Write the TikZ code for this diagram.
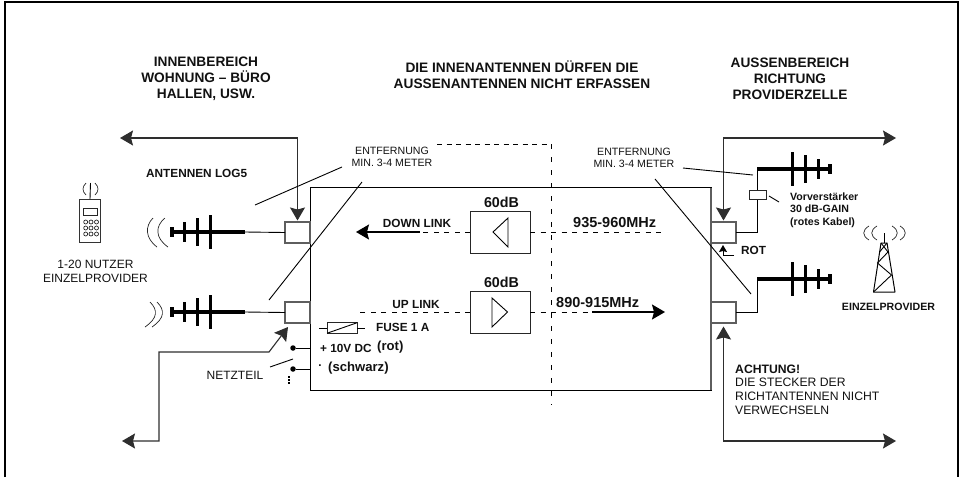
\documentclass[tikz,border=0pt]{standalone}
\usepackage{fontspec}
\setmainfont{Liberation Sans}
\usetikzlibrary{arrows.meta,positioning,calc}
\definecolor{nline}{HTML}{2E2E2E}
\definecolor{nedge}{HTML}{5E5E5E}
\definecolor{ntext}{HTML}{111111}
\tikzset{
 bigtip/.tip={Stealth[length=13pt,width=15pt,inset=2pt]},
 smalltip/.tip={Stealth[length=7pt,width=8pt,inset=1pt]},
 wire/.style={nline, line width=1.1pt},
 thinwire/.style={black, line width=0.9pt},
 linkdash/.style={black, line width=0.9pt, dash pattern=on 5pt off 5.5pt},
 jack/.style={draw=nedge, line width=1.2pt, fill=white, minimum width=25pt, minimum height=21pt, inner sep=0pt, outer sep=0pt},
 ampbox/.style={draw=black!85, line width=1pt, fill=white, minimum width=60pt, minimum height=42pt, inner sep=0pt, outer sep=0pt},
 headtxt/.style={ntext, inner sep=0pt, align=center, font=\bfseries\fontsize{13.7}{15.9}\selectfont},
 disttxt/.style={ntext, inner sep=0pt, align=center, font=\fontsize{10.6}{12}\selectfont},
 smalltxt/.style={ntext, inner sep=0pt, align=center, font=\fontsize{12}{14}\selectfont},
 boldtxt/.style={ntext, inner sep=0pt, font=\bfseries\fontsize{11.8}{14}\selectfont},
 gaintxt/.style={ntext, inner sep=0pt, font=\bfseries\fontsize{14.3}{16}\selectfont},
 freqtxt/.style={ntext, inner sep=0pt, font=\bfseries\fontsize{14.5}{16}\selectfont},
 paren/.style={ntext, inner sep=0pt, font=\bfseries\fontsize{13.1}{16}\selectfont},
 pvtxt/.style={ntext, inner sep=0pt, align=left, font=\bfseries\fontsize{10.6}{12.5}\selectfont},
 wave/.style={black!85, line width=0.7pt},
 dot/.style={circle, fill=black, inner sep=0pt, minimum size=5.5pt},
 key/.style={circle, draw=black!85, line width=0.7pt, inner sep=0pt, minimum size=4pt},
 yagi/.pic={
  \draw[black, line width=3.4pt] (0,0) -- (73,0);
  \draw[black, line width=3pt] (35,-17) -- (35,17);
  \draw[black, line width=3pt] (48,-14) -- (48,14);
  \draw[black, line width=3pt] (61,-10) -- (61,10);
  \draw[black, line width=3.6pt] (73,-5) -- (73,5);
 },
}
\begin{document}
\begin{tikzpicture}[x=1pt,y=-1pt]
 \useasboundingbox (0,0) rectangle (963,477);
 \draw[black, line width=2.6pt] (5,477) -- (5,2) -- (958,2) -- (958,477);

 \node[headtxt] (headin) at (206,79) {INNENBEREICH\\WOHNUNG – BÜRO\\HALLEN, USW.};
 \node[headtxt] (headmid) at (522,74.5) {DIE INNENANTENNEN DÜRFEN DIE\\AUSSENANTENNEN NICHT ERFASSEN};
 \node[headtxt] (headout) at (790,79) {AUSSENBEREICH\\RICHTUNG\\PROVIDERZELLE};

 \node[draw=black, line width=1pt, minimum width=401pt, minimum height=202.5pt, inner sep=0pt, outer sep=0pt] (mainbox) at (510.5,288.75) {};
 \draw[nedge, line width=1.4pt] (mainbox.north east) -- (mainbox.south east);

 \coordinate (sepstart) at (437,144);
 \coordinate (sepcorner) at (551,144);
 \coordinate (sepend) at (551,405);
 \draw[black, line width=0.9pt, dash pattern=on 5pt off 4.5pt] (sepstart) -- (sepcorner);
 \draw[black, line width=0.9pt, dash pattern=on 5pt off 8pt] (sepcorner) -- (sepend);

 \node[jack] (jackul) at (297.5,232.5) {};
 \node[jack] (jackll) at (297.5,312.5) {};
 \node[jack] (jackur) at (723.5,232.5) {};
 \node[jack] (jacklr) at (723.5,312.5) {};

 \node[ampbox] (ampdown) at (500,232) {};
 \node[ampbox] (ampup) at (500,312) {};
 \draw[thinwire, line join=miter] (508,218) -- (493,232) -- (508,247) -- cycle;
 \draw[thinwire, line join=miter] (492,298) -- (507.5,312) -- (492,327) -- cycle;
 \node[gaintxt] (gaindown) at (501.5,202) {60dB};
 \node[gaintxt] (gainup) at (501.5,282) {60dB};

 \coordinate (downtip) at (356,232);
 \coordinate (downmid) at (420,232);
 \coordinate (downend) at (665,232);
 \coordinate (uptip) at (665,312);
 \coordinate (upmid) at (592,312);
 \coordinate (upend) at (356,312);
 \draw[linkdash] (ampdown.west) -- (downmid);
 \draw[-bigtip, black, line width=1.3pt] (downmid) -- (downtip);
 \draw[linkdash] (ampdown.east) -- (downend);
 \draw[linkdash] (ampup.west) -- (upend);
 \draw[linkdash] (ampup.east) -- (upmid);
 \draw[-bigtip, black, line width=1.3pt] (upmid) -- (uptip);

 \node[boldtxt] (downlbl) at (417,223) {DOWN LINK};
 \node[boldtxt] (uplbl) at (416,304) {UP LINK};
 \node[freqtxt, anchor=west] (freqdown) at (573,223) {935-960MHz};
 \node[freqtxt, anchor=west] (frequp) at (556,303) {890-915MHz};

 \coordinate (toplefttip) at (120,138);
 \coordinate (toprighttip) at (896,138);
 \coordinate (botlefttip) at (122,441);
 \coordinate (botrighttip) at (896,441);
 \coordinate (psubend) at (159,352);
 \coordinate (pskink) at (269,352);
 \coordinate (pstip) at (288,327);
 \draw[{bigtip}-{bigtip}, wire, shorten >=1.5pt] (toplefttip) -| (jackul.north);
 \draw[{bigtip}-{bigtip}, wire, shorten >=1.5pt] (toprighttip) -| (jackur.north);
 \draw[{bigtip}-{bigtip}, wire] (botlefttip) -| (psubend) -- (pskink) -- (pstip);
 \draw[{bigtip}-{bigtip}, wire, shorten >=3.5pt] (botrighttip) -| (jacklr.south);

 \coordinate (antul) at (245,232);
 \coordinate (antll) at (245,312);
 \coordinate (antur) at (757,169);
 \coordinate (antlr) at (757,279);
 \pic[xscale=-1] at (antul) {yagi};
 \pic[xscale=-1] at (antll) {yagi};
 \pic at (antur) {yagi};
 \pic at (antlr) {yagi};
 \draw[thinwire] (antul) -- (jackul.west);
 \draw[thinwire] (antll) -- (jackll.west);
 \draw[thinwire] (jackur.east) -| (antur);
 \draw[thinwire] (jacklr.east) -| (antlr);

 \draw[wave] (153,218) .. controls (145,226) and (145,238) .. (157,247);
 \draw[wave] (165,218) .. controls (155,226) and (155,238) .. (168,247);
 \draw[wave] (150,302) .. controls (158,310) and (158,318) .. (145,327);
 \draw[wave] (157,302) .. controls (165,310) and (165,318) .. (152,327);

 \node[draw=black!85, line width=0.9pt, fill=white, minimum width=17pt, minimum height=9pt, inner sep=0pt] (preamp) at (757.5,194.5) {};
 \coordinate (pvfrom) at (769,196);
 \coordinate (pvto) at (779,202);
 \draw[thinwire] (pvfrom) -- (pvto);
 \node[pvtxt, anchor=north west] (pvlbl) at (790,192.5) {Vorverstärker\\30 dB-GAIN\\(rotes Kabel)};

 \coordinate (rotfoot) at (723,255);
 \coordinate (rottip) at (723,245);
 \coordinate (rotend) at (734,255);
 \draw[-smalltip, thinwire] (rotend) -- (rotfoot) -- (rottip);
 \node[boldtxt, anchor=west] (rotlbl) at (741,250) {ROT};

 \node[disttxt] (distl) at (392,157) {ENTFERNUNG\\MIN. 3-4 METER};
 \node[disttxt] (distr) at (634,158) {ENTFERNUNG\\MIN. 3-4 METER};
 \coordinate (leada) at (342,167);
 \coordinate (leadb) at (255,205);
 \coordinate (leadc) at (362,182);
 \coordinate (leadd) at (269,300);
 \coordinate (leade) at (683,168);
 \coordinate (leadf) at (753,175);
 \coordinate (leadg) at (655,179);
 \coordinate (leadh) at (751,294);
 \draw[thinwire] (leada) -- (leadb);
 \draw[thinwire] (leadc) -- (leadd);
 \draw[thinwire] (leade) -- (leadf);
 \draw[thinwire] (leadg) -- (leadh);

 \node[boldtxt, anchor=west] (anttxt) at (146,173) {ANTENNEN LOG5};

 \node[draw=black!80, line width=0.9pt, minimum width=21.5pt, minimum height=43pt, inner sep=0pt, outer sep=0pt] (handset) at (90,220.5) {};
 \node[draw=black!85, line width=0.8pt, minimum width=14pt, minimum height=7pt, inner sep=0pt] (display) at (90.5,211.5) {};
 \foreach \kx in {85.7,91,96.5}
  \foreach \ky in {222,228,234}
   \node[key] at (\kx,\ky) {};
 \coordinate (handtop) at (90.5,183);
 \draw[thinwire] (handset.north) -- (handtop);
 \draw[wave] (86,183) .. controls (82,187) and (82,191) .. (86,195);
 \draw[wave] (95,183) .. controls (99,187) and (99,191) .. (95,195);
 \node[smalltxt] (userlbl) at (95.5,271) {1-20 NUTZER\\EINZELPROVIDER};

 \coordinate (mastbot) at (884,243);
 \coordinate (masttop) at (884,233);
 \draw[thinwire] (mastbot) -- (masttop);
 \draw[black, line width=1pt, line join=round] (881,243) -- (887,243) -- (895,292) -- (873.5,292) -- cycle;
 \draw[thinwire] (881,243) -- (888,252) -- (877.5,263) -- (891.5,275) -- (873.5,292);
 \draw[thinwire] (887,243) -- (879.5,252);
 \draw[wave] (869,226) .. controls (862,230) and (862,236) .. (869,240);
 \draw[wave] (877,226) .. controls (870,230) and (870,236) .. (877,240);
 \draw[wave] (892,226) .. controls (899,230) and (899,236) .. (892,240);
 \draw[wave] (900,226) .. controls (907,230) and (907,236) .. (900,240);
 \node[pvtxt] (provlbl) at (888.5,307) {EINZELPROVIDER};

 \node[ntext, inner sep=0pt, anchor=north west, align=left, font=\fontsize{12.2}{13.7}\selectfont] (warnlbl) at (735,364.5) {\textbf{ACHTUNG!}\\DIE STECKER DER\\RICHTANTENNEN NICHT\\VERWECHSELN};

 \node[draw=black!85, line width=0.9pt, minimum width=30pt, minimum height=10.5pt, inner sep=0pt, outer sep=0pt] (fuse) at (342,328) {};
 \coordinate (fusel) at (319,328);
 \coordinate (fuser) at (365,328);
 \draw[thinwire] (fusel) -- (fuse.west);
 \draw[thinwire] (fuse.east) -- (fuser);
 \draw[thinwire] (fuse.south west) -- (fuse.north east);
 \node[boldtxt, anchor=west] (fuselbl) at (376,327) {FUSE 1 A};
 \node[boldtxt, anchor=west] (pluslbl) at (320,348) {+ 10V DC};
 \node[paren, anchor=west] (rotpar) at (377,347) {(rot)};
 \node[boldtxt] (minuslbl) at (320,366) {.};
 \node[paren, anchor=west] (schwarz) at (328,368) {(schwarz)};

 \node[dot] (dotplus) at (293,348) {};
 \node[dot] (dotminus) at (293,369) {};
 \draw[thinwire] (dotplus) -- (dotplus -| mainbox.west);
 \draw[thinwire] (dotminus) -- (dotminus -| mainbox.west);
 \coordinate (blade) at (270,367);
 \coordinate (bladeend) at (293,359);
 \draw[thinwire] (blade) -- (bladeend);
 \coordinate (gndtop) at (289,376);
 \coordinate (gndbot) at (289,384);
 \draw[black, line width=1.2pt, dash pattern=on 1.5pt off 1.5pt] (gndtop) -- (gndbot);
 \node[smalltxt] (netzlbl) at (235,375) {NETZTEIL};
\end{tikzpicture}
\end{document}
